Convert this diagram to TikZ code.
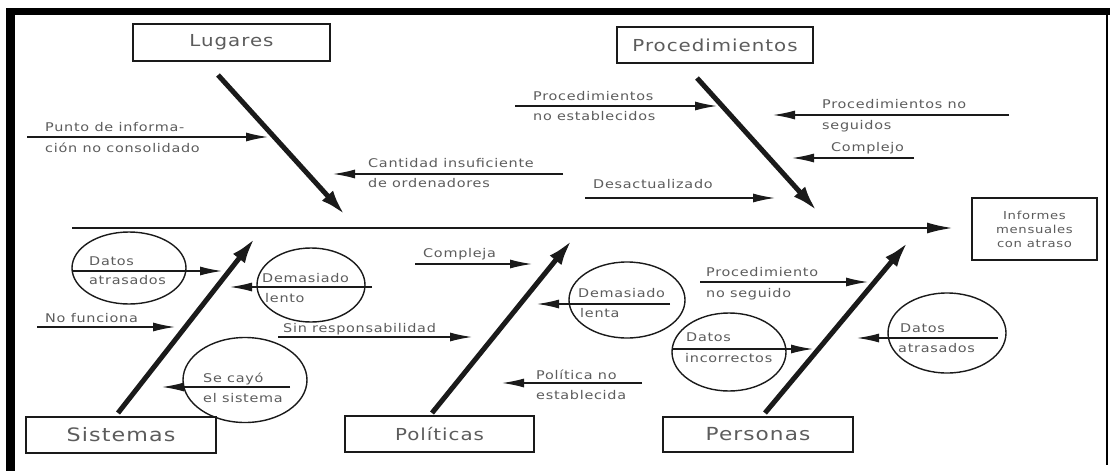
\documentclass[tikz,border=0pt]{standalone}
\usepackage{fontspec}
\setmainfont{DejaVu Sans}[FakeStretch=1.2,LetterSpace=6]
\usetikzlibrary{arrows.meta,shapes.geometric}
\definecolor{ink}{HTML}{1A1A1A}
\definecolor{txt}{HTML}{5C5C5C}
\tikzset{
  lbl/.style={anchor=base west, inner sep=0pt, text=txt, font=\fontsize{12}{14}\selectfont},
  cat/.style={draw=ink, line width=1.4pt, inner sep=0pt, text=txt, font=\fontsize{16.5}{19}\selectfont},
  effect/.style={draw=ink, line width=1.4pt, inner sep=0pt, text=txt, align=center,
    font=\fontsize{11}{14}\selectfont},
  cause/.style={draw=ink, line width=1.4pt, -{Latex[length=22pt,width=9pt]}},
  bone/.style={draw=ink, line width=5pt, -{Latex[length=26pt,width=15pt]}},
  spine/.style={draw=ink, line width=2.4pt, -{Latex[length=26pt,width=11pt]}},
  bubble/.style={draw=ink, line width=1.4pt, ellipse, inner sep=0pt},
}
\begin{document}
\begin{tikzpicture}[x=1pt,y=-1pt]
\useasboundingbox (0,0) rectangle (1110,471);
\fill[white] (0,0) rectangle (1110,471);
% frame
\fill[black] (6,8) rectangle (1110,15);
\fill[black] (6,8) rectangle (15,471);
\draw[black, line width=2pt] (1107,12) -- (1107,465);

% category boxes and effect
\node[cat, minimum width=197pt, minimum height=37pt] (lug) at (231.5,42.5) {Lugares};
\node[cat, minimum width=196pt, minimum height=36pt] (proc) at (715,45) {Procedimientos};
\node[cat, minimum width=190pt, minimum height=36pt, font=\fontsize{18.5}{20}\selectfont] (sis) at (121,435) {Sistemas};
\node[cat, minimum width=189pt, minimum height=36pt] (pol) at (439.5,434) {Políticas};
\node[cat, minimum width=190pt, minimum height=35pt, font=\fontsize{18}{20}\selectfont] (per) at (758,434.5) {Personas};
\node[effect, minimum width=125pt, minimum height=62pt] (eff) at (1034.5,229) {Informes\\mensuales\\con atraso};

% spine
\coordinate (spL) at (72,228);
\coordinate (spR) at (953,228);
\draw[spine] (spL) -- (spR);

% bones
\coordinate (bLug0) at (218,75);   \coordinate (bLug1) at (345,215);
\coordinate (bProc0) at (697,78);  \coordinate (bProc1) at (817,211);
\coordinate (bSis0) at (118,413);  \coordinate (bSis1) at (255,238);
\coordinate (bPol0) at (432,413);  \coordinate (bPol1) at (572,240);
\coordinate (bPer0) at (765,413);  \coordinate (bPer1) at (908,242);
\draw[bone] (bLug0) -- (bLug1);
\draw[bone] (bProc0) -- (bProc1);
\draw[bone] (bSis0) -- (bSis1);
\draw[bone] (bPol0) -- (bPol1);
\draw[bone] (bPer0) -- (bPer1);

% --- Lugares
\node[lbl] (t1a) at (45,131) {Punto de informa-};
\node[lbl] (t1b) at (45,152) {ción no consolidado};
\coordinate (a1s) at (27,137); \coordinate (a1e) at (268,137);
\draw[cause] (a1s) -- (a1e);

\node[lbl] (t2a) at (368,167) {Cantidad insuficiente};
\node[lbl] (t2b) at (368,187) {de ordenadores};
\coordinate (a2s) at (563,174); \coordinate (a2e) at (333,174);
\draw[cause] (a2s) -- (a2e);

% --- Procedimientos
\node[lbl] (t3a) at (533,100) {Procedimientos};
\node[lbl] (t3b) at (533,120) {no establecidos};
\coordinate (a3s) at (515,106); \coordinate (a3e) at (717,106);
\draw[cause] (a3s) -- (a3e);

\node[lbl] (t4) at (593,188) {Desactualizado};
\coordinate (a4s) at (585,198); \coordinate (a4e) at (775,198);
\draw[cause] (a4s) -- (a4e);

\node[lbl] (t5a) at (822,108) {Procedimientos no};
\node[lbl] (t5b) at (822,129) {seguidos};
\coordinate (a5s) at (1009,115); \coordinate (a5e) at (773,115);
\draw[cause] (a5s) -- (a5e);

\node[lbl] (t6) at (831,151) {Complejo};
\coordinate (a6s) at (914,158); \coordinate (a6e) at (792,158);
\draw[cause] (a6s) -- (a6e);

% --- Sistemas
\node[bubble, minimum width=114pt, minimum height=72pt] (c7) at (129,268) {};
\node[lbl] (t7a) at (89,265) {Datos};
\node[lbl] (t7b) at (89,284) {atrasados};
\coordinate (a7s) at (72,271); \coordinate (a7e) at (222,271);
\draw[cause] (a7s) -- (a7e);

\node[bubble, minimum width=108pt, minimum height=74pt] (c8) at (311,285) {};
\node[lbl] (t8a) at (262,282) {Demasiado};
\node[lbl] (t8b) at (265,302) {lento};
\coordinate (a8s) at (372,287); \coordinate (a8e) at (230,287);
\draw[cause] (a8s) -- (a8e);

\node[lbl] (t9) at (45,322) {No funciona};
\coordinate (a9s) at (37,327); \coordinate (a9e) at (175,327);
\draw[cause] (a9s) -- (a9e);

\node[bubble, minimum width=124pt, minimum height=85pt] (c11) at (245,380) {};
\node[lbl] (t11a) at (203,382) {Se cayó};
\node[lbl] (t11b) at (203,402) {el sistema};
\coordinate (a11s) at (290,387); \coordinate (a11e) at (162,387);
\draw[cause] (a11s) -- (a11e);

% --- Políticas
\node[lbl] (t10) at (283,332) {Sin responsabilidad};
\coordinate (a10s) at (278,337); \coordinate (a10e) at (472,337);
\draw[cause] (a10s) -- (a10e);

\node[lbl] (t12) at (423,257) {Compleja};
\coordinate (a12s) at (415,264); \coordinate (a12e) at (532,264);
\draw[cause] (a12s) -- (a12e);

\node[bubble, minimum width=116pt, minimum height=76pt] (c13) at (627,300) {};
\node[lbl] (t13a) at (578,297) {Demasiado};
\node[lbl] (t13b) at (580,317) {lenta};
\coordinate (a13s) at (670,304); \coordinate (a13e) at (537,304);
\draw[cause] (a13s) -- (a13e);

\node[lbl] (t14a) at (536,379) {Política no};
\node[lbl] (t14b) at (536,399) {establecida};
\coordinate (a14s) at (642,383); \coordinate (a14e) at (502,383);
\draw[cause] (a14s) -- (a14e);

% --- Personas
\node[lbl] (t15a) at (706,276) {Procedimiento};
\node[lbl] (t15b) at (706,297) {no seguido};
\coordinate (a15s) at (700,282); \coordinate (a15e) at (868,282);
\draw[cause] (a15s) -- (a15e);

\node[bubble, minimum width=114pt, minimum height=78pt] (c16) at (729,352) {};
\node[lbl] (t16a) at (686,341) {Datos};
\node[lbl] (t16b) at (685,362) {incorrectos};
\coordinate (a16s) at (672,349); \coordinate (a16e) at (813,349);
\draw[cause] (a16s) -- (a16e);

\node[bubble, minimum width=118pt, minimum height=80pt] (c17) at (947,333) {};
\node[lbl] (t17a) at (900,332) {Datos};
\node[lbl] (t17b) at (898,352) {atrasados};
\coordinate (a17s) at (998,338); \coordinate (a17e) at (857,338);
\draw[cause] (a17s) -- (a17e);
\end{tikzpicture}
\end{document}
